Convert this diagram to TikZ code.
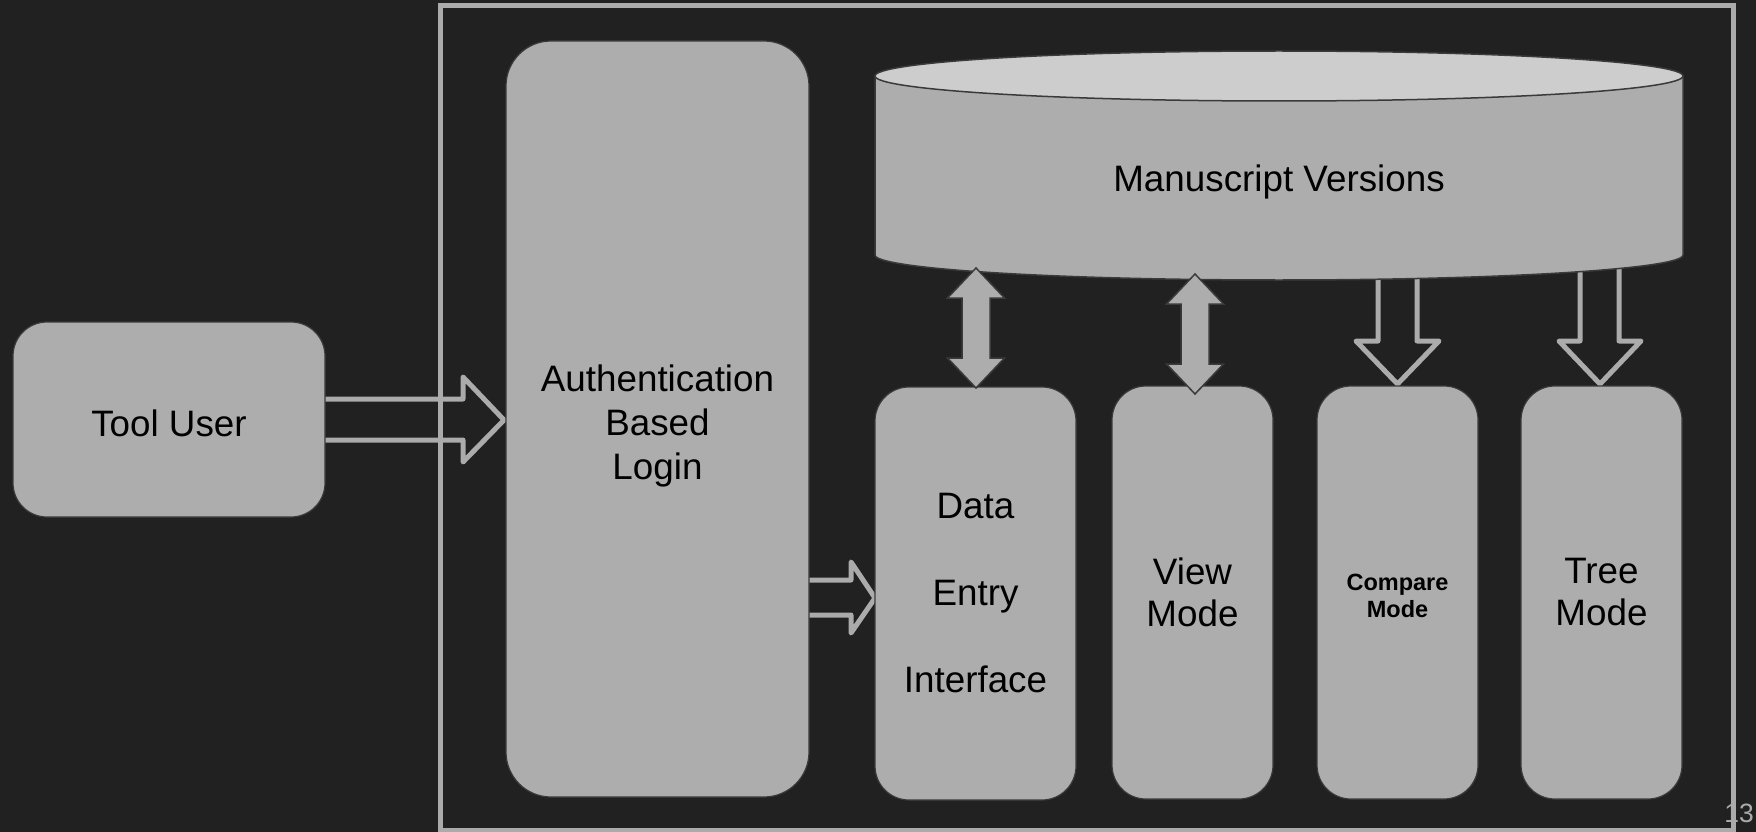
\documentclass[tikz,border=0pt]{standalone}
\usepackage{fontspec}
\setmainfont{Liberation Sans}
\definecolor{bg}{HTML}{212121}
\definecolor{boxgrey}{HTML}{ADADAD}
\definecolor{topgrey}{HTML}{CDCDCD}
\definecolor{edge}{HTML}{3A3A3A}
\definecolor{linegrey}{HTML}{ABABAB}
\begin{document}
\begin{tikzpicture}[x=1pt,y=-1pt,
  box/.style={rectangle, rounded corners=34pt, fill=boxgrey, draw=edge, line width=1.2pt, align=center, inner sep=0pt, text=black},
  big/.style={font=\fontsize{36.8}{44}\selectfont},
  boxtext/.style={align=center, inner sep=0pt, text=black},
  hollow/.style={draw=linegrey, line width=5pt, line join=round},
  solidarrow/.style={fill=boxgrey, draw=edge, line width=1.5pt, line join=miter}]

\useasboundingbox[fill=bg] (0,0) rectangle (1756,832);

% page number (partly hidden by frame)
\node[anchor=east, text=linegrey, font=\fontsize{26.5}{26.5}\selectfont, inner sep=0pt] (pg) at (1754,813.5) {13};

% outer frame
\draw[linegrey, line width=5pt] (440,6) rectangle (1733,830.5);

% hollow arrows (drawn before boxes so their tails are covered)
\draw[hollow] (320,399) -- (463,399) -- (463,377) -- (504,420) -- (463,462) -- (463,440) -- (320,440);
\draw[hollow] (804,580) -- (851,580) -- (851,562) -- (875,598) -- (851,633) -- (851,615) -- (804,615);
\draw[hollow] (1378,265) -- (1378,341) -- (1356,341) -- (1397.5,384) -- (1439,341) -- (1417,341) -- (1417,265);
\draw[hollow] (1580,262) -- (1580,341) -- (1559,341) -- (1600,384) -- (1641,341) -- (1619,341) -- (1619,262);

% cylinder (Manuscript Versions)
\fill[boxgrey] (875,76) -- (875,255) arc[start angle=180, end angle=360, x radius=404pt, y radius=25pt] -- (1683,76) -- cycle;
\draw[edge, line width=1.5pt] (875,76) -- (875,255) arc[start angle=180, end angle=360, x radius=404pt, y radius=25pt] -- (1683,76);
\filldraw[fill=topgrey, draw=edge, line width=1.5pt] (1279,76) ellipse [x radius=404pt, y radius=25pt];
\node[big, inner sep=0pt] (db) at (1279,182) {Manuscript Versions};

% boxes
\node[box, minimum width=312pt, minimum height=195pt,
  label={[boxtext, big, yshift=-3.5pt]center:Tool User}] (user) at (169,419.5) {};
\node[box, rounded corners=45pt, minimum width=303pt, minimum height=756pt,
  label={[boxtext, big, yshift=-6.7pt]center:{Authentication\\Based\\Login}}] (auth) at (657.5,419) {};
\node[box, font=\fontsize{36.8}{87}\selectfont, minimum width=201pt, minimum height=413pt] (data) at (975.5,593.5) {Data\\Entry\\Interface};
\node[box, font=\fontsize{36.8}{42}\selectfont, minimum width=161pt, minimum height=413pt] (view) at (1192.5,592.5) {View\\Mode};
\node[box, minimum width=161pt, minimum height=413pt,
  label={[boxtext, font=\fontsize{23.5}{27}\selectfont\bfseries, yshift=-3.4pt]center:{Compare\\Mode}}] (compare) at (1397.5,592.5) {};
\node[box, font=\fontsize{36.8}{42}\selectfont, minimum width=161pt, minimum height=413pt] (tree) at (1601.5,592.5) {Tree\\Mode};

% solid double arrows
\draw[solidarrow] (976,268) -- (1004.5,298) -- (990,298) -- (990,358) -- (1004.5,358) -- (976,388) -- (947.5,358) -- (962,358) -- (962,298) -- (947.5,298) -- cycle;
\draw[solidarrow] (1195,274) -- (1223.5,304) -- (1209,304) -- (1209,364) -- (1223.5,364) -- (1195,394) -- (1166.5,364) -- (1181,364) -- (1181,304) -- (1166.5,304) -- cycle;

\end{tikzpicture}
\end{document}
